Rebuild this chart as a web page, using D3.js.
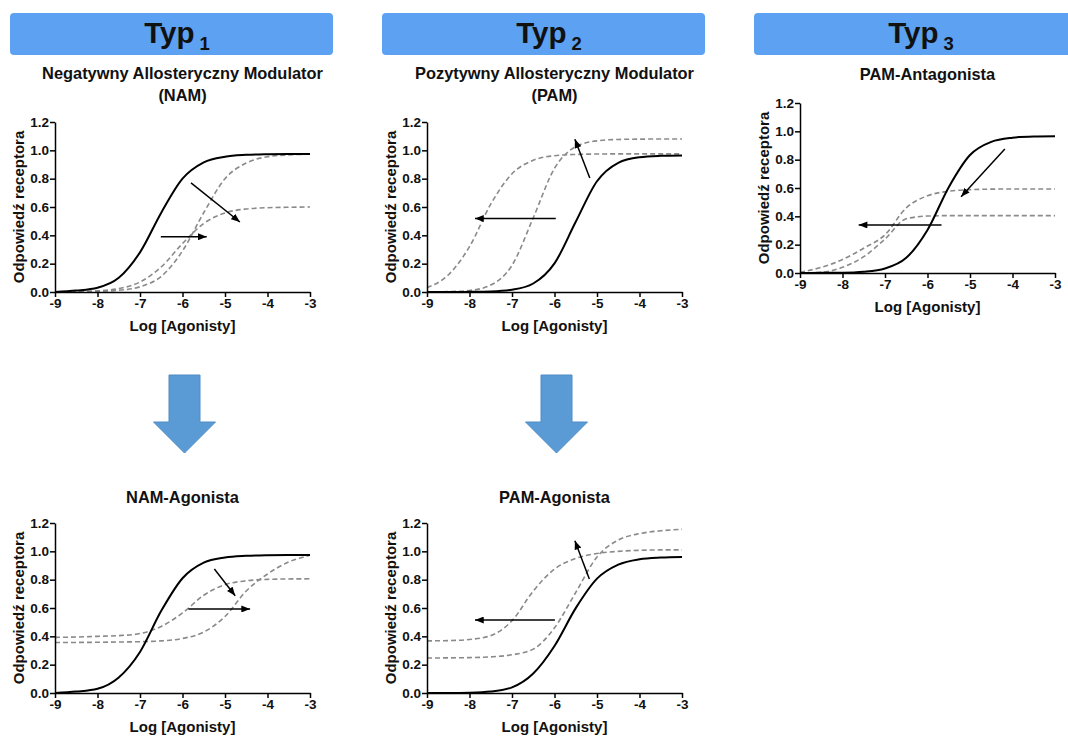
<!DOCTYPE html>
<html>
<head>
<meta charset="utf-8">
<title>Modulatory allosteryczne</title>
<script src="https://cdnjs.cloudflare.com/ajax/libs/d3/7.8.5/d3.min.js"></script>
<style>
  body { margin: 0; background: #fff; }
  svg { display: block; font-family: "Liberation Sans", Arial, sans-serif; }
  .axis path, .axis line { stroke: #000; stroke-width: 1.5; }
  .axis text { font-size: 13.5px; font-weight: bold; fill: #111; font-family: "Liberation Sans", Arial, sans-serif; }
  .title { font-size: 16.4px; font-weight: bold; fill: #111; }
  .axis-title { font-size: 15px; font-weight: bold; fill: #111; }
  .solid { fill: none; stroke: #000; stroke-width: 2; }
  .dashed { fill: none; stroke: #8a8a8a; stroke-width: 1.6; stroke-dasharray: 5,3; }
  .note { stroke: #000; stroke-width: 1.5; }
</style>
</head>
<body>
<div id="chart"></div>
<script>
// log [agonist] grid, read every half unit
const logDose = [-9, -8.5, -8, -7.5, -7, -6.5, -6, -5.5, -5, -4.5, -4, -3.5, -3];
const xTicks = [-9, -8, -7, -6, -5, -4, -3];
const yTicks = [0, 0.2, 0.4, 0.6, 0.8, 1.0, 1.2];

// Typ 1 - NAM
const namControl = [0.00, 0.01, 0.03, 0.10, 0.28, 0.56, 0.80, 0.915, 0.955, 0.968, 0.973, 0.975, 0.975];
const namShifted = [0.00, 0.001, 0.004, 0.012, 0.037, 0.11, 0.29, 0.56, 0.80, 0.91, 0.955, 0.968, 0.973];
const namLowered = [0.001, 0.003, 0.008, 0.024, 0.07, 0.177, 0.342, 0.484, 0.558, 0.586, 0.595, 0.598, 0.60];

// Typ 2 - PAM
const pamControl = [0.00, 0.00, 0.001, 0.004, 0.016, 0.06, 0.202, 0.496, 0.782, 0.912, 0.951, 0.961, 0.964];
const pamLeft = [0.03, 0.12, 0.32, 0.62, 0.835, 0.93, 0.962, 0.971, 0.974, 0.975, 0.975, 0.975, 0.975];
const pamRaised = [0.001, 0.003, 0.011, 0.049, 0.188, 0.524, 0.873, 1.026, 1.067, 1.077, 1.079, 1.08, 1.08];

// Typ 3 - PAM-Antagonista
const antControl = [0.00, 0.001, 0.002, 0.009, 0.032, 0.107, 0.304, 0.606, 0.833, 0.926, 0.955, 0.964, 0.966];
const antUpper = [0.005, 0.04, 0.095, 0.175, 0.27, 0.46, 0.545, 0.577, 0.588, 0.592, 0.593, 0.593, 0.593];
const antLower = [0.00, 0.005, 0.04, 0.115, 0.24, 0.383, 0.402, 0.405, 0.405, 0.405, 0.405, 0.405, 0.405];

// NAM-Agonista
const namAgControl = [0.00, 0.01, 0.03, 0.11, 0.29, 0.58, 0.81, 0.92, 0.956, 0.968, 0.973, 0.975, 0.975];
const namAgUpper = [0.393, 0.395, 0.40, 0.405, 0.42, 0.47, 0.565, 0.69, 0.765, 0.792, 0.802, 0.805, 0.806];
const namAgLower = [0.357, 0.357, 0.358, 0.36, 0.362, 0.368, 0.385, 0.43, 0.54, 0.72, 0.84, 0.925, 0.972];

// PAM-Agonista
const pamAgControl = [0.00, 0.00, 0.002, 0.01, 0.04, 0.138, 0.332, 0.599, 0.807, 0.906, 0.944, 0.956, 0.96];
const pamAgUpper = [0.368, 0.37, 0.378, 0.405, 0.51, 0.72, 0.875, 0.95, 0.985, 1.0, 1.007, 1.01, 1.01];
const pamAgLower = [0.247, 0.248, 0.25, 0.255, 0.27, 0.31, 0.46, 0.71, 0.96, 1.08, 1.125, 1.145, 1.155];

// annotation arrows [x1, y1, x2, y2] in data units
const namArrows = [[-5.8, 0.77, -4.65, 0.494], [-6.51, 0.39, -5.43, 0.39]];
const pamArrows = [[-5.97, 0.518, -7.87, 0.518], [-5.17, 0.805, -5.52, 1.078]];
const antArrows = [[-4.18, 0.875, -5.21, 0.539], [-5.67, 0.339, -7.62, 0.339]];
const namAgArrows = [[-5.25, 0.875, -4.76, 0.687], [-5.86, 0.593, -4.41, 0.593]];
const pamAgArrows = [[-5.99, 0.515, -7.87, 0.515], [-5.18, 0.805, -5.52, 1.075]];

const headers = ['1', '2', '3'];

const width = 1068;
const height = 736;
const plotW = 255;
const plotH = 170;

const panels = [
    { title: ['Negatywny Allosteryczny Modulator', '(NAM)'], titleY: [79, 101], left: 55, top: 122,
      solid: namControl, dashed: [namShifted, namLowered], arrows: namArrows },
    { title: ['Pozytywny Allosteryczny Modulator', '(PAM)'], titleY: [79, 101], left: 427, top: 122,
      solid: pamControl, dashed: [pamLeft, pamRaised], arrows: pamArrows },
    { title: ['PAM-Antagonista'], titleY: [80], left: 800, top: 103,
      solid: antControl, dashed: [antUpper, antLower], arrows: antArrows },
    { title: ['NAM-Agonista'], titleY: [503], left: 55, top: 523,
      solid: namAgControl, dashed: [namAgUpper, namAgLower], arrows: namAgArrows },
    { title: ['PAM-Agonista'], titleY: [503], left: 427, top: 523,
      solid: pamAgControl, dashed: [pamAgUpper, pamAgLower], arrows: pamAgArrows }
];

const svg = d3.select('#chart')
    .append('svg')
    .attr('width', width)
    .attr('height', height);

svg.append('defs').append('marker')
    .attr('id', 'head')
    .attr('viewBox', '0 0 10 8')
    .attr('refX', 10)
    .attr('refY', 4)
    .attr('markerWidth', 9)
    .attr('markerHeight', 7)
    .attr('markerUnits', 'userSpaceOnUse')
    .attr('orient', 'auto')
    .append('path')
    .attr('d', 'M0,0 L10,4 L0,8 Z')
    .attr('fill', '#000');

// blue header bars
headers.forEach((h, i) => {
    const bx = 10 + i * 372;
    svg.append('rect')
        .attr('x', bx).attr('y', 13)
        .attr('width', 323).attr('height', 42)
        .attr('rx', 4)
        .attr('fill', '#5ca1f2');
    const t = svg.append('text')
        .attr('x', bx + 167)
        .attr('y', 43)
        .attr('text-anchor', 'middle')
        .attr('font-weight', 'bold')
        .attr('fill', '#111');
    t.append('tspan').attr('font-size', 29.5).text('Typ');
    t.append('tspan').attr('font-size', 18.5).attr('dy', 7).text('\u00a0' + h);
});

// big down arrows between rows
[184.5, 556.5].forEach(cx => {
    const pts = [
        [cx - 15.5, 375], [cx + 15.5, 375], [cx + 15.5, 422], [cx + 31, 422],
        [cx, 453], [cx - 31, 422], [cx - 15.5, 422]
    ];
    svg.append('polygon')
        .attr('points', pts.map(p => p.join(',')).join(' '))
        .attr('fill', '#5b9bd5')
        .attr('stroke', '#4f8cc4')
        .attr('stroke-width', 1);
});

panels.forEach(p => {
    const x = d3.scaleLinear().domain([-9, -3]).range([p.left, p.left + plotW]);
    const y = d3.scaleLinear().domain([0, 1.2]).range([p.top + plotH, p.top]);
    const cx = p.left + plotW / 2;

    p.title.forEach((line, i) => {
        svg.append('text')
            .attr('class', 'title')
            .attr('x', cx)
            .attr('y', p.titleY[i])
            .attr('text-anchor', 'middle')
            .text(line);
    });

    const line = d3.line()
        .x(d => x(d[0]))
        .y(d => y(d[1]))
        .curve(d3.curveMonotoneX);

    p.dashed.forEach(vals => {
        svg.append('path')
            .attr('class', 'dashed')
            .attr('d', line(d3.zip(logDose, vals)));
    });

    svg.append('path')
        .attr('class', 'solid')
        .attr('d', line(d3.zip(logDose, p.solid)));

    svg.selectAll(null)
        .data(p.arrows)
        .join('line')
        .attr('class', 'note')
        .attr('x1', d => x(d[0]))
        .attr('y1', d => y(d[1]))
        .attr('x2', d => x(d[2]))
        .attr('y2', d => y(d[3]))
        .attr('marker-end', 'url(#head)');

    // axes
    svg.append('g')
        .attr('class', 'axis')
        .attr('transform', `translate(0,${p.top + plotH})`)
        .call(d3.axisBottom(x).tickValues(xTicks).tickSize(5).tickSizeOuter(0).tickPadding(1)
            .tickFormat(d => String(d)));

    svg.append('g')
        .attr('class', 'axis')
        .attr('transform', `translate(${p.left},0)`)
        .call(d3.axisLeft(y).tickValues(yTicks).tickSize(5).tickSizeOuter(0).tickPadding(1)
            .tickFormat(d3.format('.1f')));

    svg.append('text')
        .attr('class', 'axis-title')
        .attr('x', cx)
        .attr('y', p.top + plotH + 34)
        .attr('dy', '0.35em')
        .attr('text-anchor', 'middle')
        .text('Log [Agonisty]');

    svg.append('text')
        .attr('class', 'axis-title')
        .attr('transform', `translate(${p.left - 36},${p.top + plotH / 2}) rotate(-90)`)
        .attr('dy', '0.35em')
        .attr('text-anchor', 'middle')
        .text('Odpowiedź receptora');
});
</script>
</body>
</html>
